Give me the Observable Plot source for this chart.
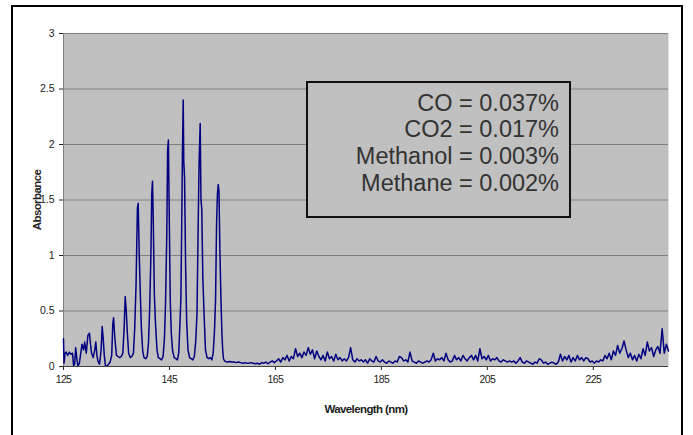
<!DOCTYPE html>
<html><head><meta charset="utf-8">
<script src="https://cdn.jsdelivr.net/npm/d3@7"></script>
<script src="https://cdn.jsdelivr.net/npm/@observablehq/plot@0.6"></script>
<style>
body{margin:0;background:#fff;}
#wrap{position:relative;width:693px;height:435px;overflow:hidden;font-family:"Liberation Sans",Arial,sans-serif;}
#border{position:absolute;left:11px;top:5px;width:672px;height:470px;border:2px solid #000;box-sizing:border-box;pointer-events:none;}
#note{position:absolute;left:306px;top:81px;width:265px;height:137px;border:2px solid #111;background:#c0c0c0;box-sizing:border-box;text-align:right;font-size:23.5px;line-height:26.7px;color:#333;padding-top:6.5px;padding-right:10px;}
svg [aria-label="x-axis label"] text, svg [aria-label="y-axis label"] text{font-weight:bold;letter-spacing:-0.6px;font-size:11.5px;}
svg [aria-label="x-axis tick label"] text{letter-spacing:-0.6px;}
</style>
</head><body>
<div id="wrap"><div id="border"></div></div>
<script>
// Peak region (CO band): wavelength (nm) and absorbance
const peakWl = [125.0,125.1,125.3,125.5,125.8,126.1,126.4,126.7,126.9,127.1,127.3,127.5,127.7,128.0,128.2,128.5,128.8,129.0,129.3,129.6,129.9,130.1,130.3,130.6,130.9,131.1,131.3,131.5,131.8,132.1,132.3,132.5,132.7,132.9,133.2,133.5,133.8,134.1,134.3,134.45,134.7,135.0,135.3,135.6,135.9,136.2,136.45,136.65,136.85,137.05,137.3,137.6,137.9,138.2,138.45,138.7,138.95,139.1,139.3,139.5,139.7,139.95,140.2,140.5,140.8,141.05,141.25,141.5,141.65,141.8,141.95,142.15,142.35,142.65,142.9,143.2,143.5,143.8,144.05,144.25,144.5,144.65,144.8,144.95,145.15,145.35,145.6,145.9,146.2,146.5,146.75,146.95,147.15,147.3,147.45,147.6,147.7,147.85,148.05,148.25,148.5,148.8,149.1,149.4,149.7,149.95,150.2,150.4,150.6,150.8,150.95,151.1,151.3,151.55,151.8,152.1,152.4,152.7,153.0,153.25,153.5,153.7,153.9,154.05,154.2,154.35,154.5,154.7,154.9,155.05,155.2,155.4];
const peakAbs = [0.25,0.03,0.12,0.13,0.10,0.13,0.11,0.12,0.01,0.02,0.17,0.08,0.00,0.03,0.10,0.20,0.15,0.22,0.12,0.28,0.30,0.20,0.12,0.08,0.15,0.22,0.10,0.05,0.02,0.15,0.36,0.25,0.10,0.01,0.00,0.02,0.04,0.10,0.38,0.44,0.25,0.10,0.09,0.08,0.09,0.12,0.35,0.63,0.50,0.30,0.12,0.08,0.09,0.12,0.35,0.75,1.43,1.47,1.00,0.65,0.35,0.14,0.08,0.07,0.09,0.22,0.50,1.00,1.55,1.67,1.30,0.65,0.40,0.15,0.08,0.07,0.06,0.09,0.25,0.55,1.20,1.95,2.04,1.40,0.60,0.30,0.14,0.08,0.07,0.06,0.12,0.35,0.60,1.20,1.92,2.40,1.85,1.70,0.90,0.40,0.15,0.08,0.07,0.06,0.09,0.22,0.48,1.20,1.85,2.19,1.50,1.42,0.80,0.45,0.15,0.08,0.07,0.08,0.06,0.12,0.32,0.60,1.30,1.55,1.64,1.58,1.10,0.65,0.30,0.15,0.07,0.05];
// Noise region: sampled every 0.4 nm starting at 155.6 nm
const noiseStart = 155.6;
const noiseStep = 0.4;
const noiseAbs = [
0.045,0.04,0.045,0.04,0.04,0.035,0.04,0.035,0.03,0.035,0.03,0.03,0.035,0.03,
0.025,0.03,0.02,0.035,0.03,0.04,0.025,0.04,0.05,0.035,
0.05,0.07,0.04,0.08,0.06,0.10,0.05,0.09,0.07,0.16,
0.09,0.12,0.08,0.13,0.10,0.17,0.11,0.15,0.07,0.14,0.09,
0.06,0.10,0.05,0.13,0.07,0.09,0.05,0.11,0.06,0.08,0.05,
0.07,0.05,0.08,0.17,0.06,0.04,0.07,0.05,0.06,
0.04,0.06,0.03,0.07,0.05,0.04,0.09,0.05,0.04,0.06,
0.04,0.03,0.05,0.04,0.03,0.05,0.04,0.09,0.08,0.05,
0.06,0.04,0.13,0.05,0.04,0.03,0.05,0.04,0.03,0.04,
0.05,0.04,0.06,0.12,0.05,0.07,0.06,0.08,0.05,0.12,
0.06,0.04,0.05,0.10,0.06,0.08,0.05,0.10,0.07,0.05,
0.08,0.10,0.06,0.10,0.05,0.16,0.07,0.09,0.06,0.10,
0.05,0.07,0.06,0.08,0.05,0.04,0.06,0.05,0.04,0.05,
0.04,0.05,0.03,0.05,0.08,0.04,0.03,0.05,0.04,0.03,
0.02,0.04,0.03,0.07,0.06,0.03,0.04,0.02,0.03,0.04,
0.03,0.02,0.04,0.11,0.05,0.09,0.06,0.10,0.04,0.08,
0.05,0.10,0.06,0.08,0.05,0.08,0.07,0.04,0.05,0.03,
0.05,0.04,0.06,0.05,0.10,0.07,0.12,0.06,0.14,0.10,
0.19,0.12,0.16,0.23,0.15,0.08,0.12,0.06,0.10,0.05,
0.11,0.07,0.16,0.10,0.22,0.14,0.17,0.09,0.15,0.18,
0.12,0.34,0.12,0.20,0.14];
const xTicks = [125,145,165,185,205,225];
const yTicks = [0,0.5,1,1.5,2,2.5,3];
const noteLines = ["CO = 0.037%","CO2 = 0.017%","Methanol = 0.003%","Methane = 0.002%"];

const data = peakWl.map((w,i)=>({wl:w, a:peakAbs[i]}))
  .concat(noiseAbs.map((a,i)=>({wl:+(noiseStart+i*noiseStep).toFixed(2), a})));

const chart = Plot.plot({
  width: 693, height: 435,
  marginLeft: 63, marginRight: 25, marginTop: 33, marginBottom: 69,
  style: {fontFamily: '"Liberation Sans", Arial, sans-serif', fontSize: "10.5px", color: "#222", background: "transparent"},
  x: {domain: [125, 239.2], ticks: xTicks, tickFormat: d => String(d), tickSize: 4, label: "Wavelength (nm)", labelAnchor: "center", labelArrow: "none", labelOffset: 46},
  y: {domain: [0, 3], ticks: yTicks, tickFormat: d => String(d), tickSize: 4, label: "Absorbance", labelAnchor: "center", labelArrow: "none", labelOffset: 31},
  marks: [
    Plot.frame({fill: "#c0c0c0", stroke: null}),
    Plot.gridY(yTicks.slice(1), {stroke: "#808080", strokeOpacity: 1, strokeWidth: 1}),
    Plot.ruleX([125], {stroke: "#808080"}),
    Plot.line(data, {x: "wl", y: "a", stroke: "#000080", strokeWidth: 1.5}),
    Plot.ruleY([0], {stroke: "#404040"})
  ]
});
chart.style.position = "absolute";
chart.style.left = "0px";
chart.style.top = "0px";
const wrap = document.getElementById("wrap");
wrap.insertBefore(chart, wrap.firstChild);
const note = document.createElement("div");
note.id = "note";
note.innerHTML = noteLines.map(s => "<div>" + s + "</div>").join("");
wrap.appendChild(note);
</script>
</body></html>
